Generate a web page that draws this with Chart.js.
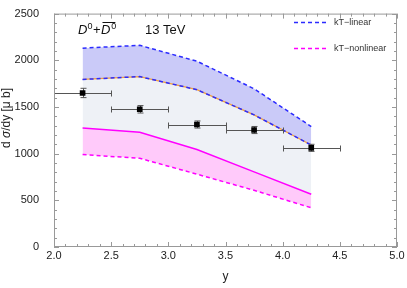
<!DOCTYPE html>
<html>
<head>
<meta charset="utf-8">
<script src="https://cdn.jsdelivr.net/npm/chart.js@4.4.0/dist/chart.umd.min.js"></script>
<style>
body{margin:0;background:#fff;}
</style>
</head>
<body>
<canvas id="myChart" width="407" height="288"></canvas>
<script>
// 라피디티 bin
var rapidity = [2.25, 2.75, 3.25, 3.75, 4.25];
var binLow = [2.0, 2.5, 3.0, 3.5, 4.0];
var binHigh = [2.5, 3.0, 3.5, 4.0, 4.5];
// 측정값 (LHCb)
var dataY = [1650, 1475, 1312, 1253, 1062];
var dataErr = [50, 40, 38, 38, 38];
// kT-linear 밴드
var linearUp = [2130, 2160, 1990, 1695, 1290];
var linearLow = [1795, 1825, 1685, 1415, 1092];
// kT-nonlinear 밴드
var nonlinUp = [1275, 1230, 1045, 805, 565];
var nonlinLow = [990, 950, 780, 607, 420];
// 눈금
var xTicks = [2.0, 2.5, 3.0, 3.5, 4.0, 4.5, 5.0];
var yTicks = [0, 500, 1000, 1500, 2000, 2500];
var legendNames = ['kT\u2212linear', 'kT\u2212nonlinear'];

var FONT = "'Liberation Sans', Arial, sans-serif";

function toXY(ys){
	return rapidity.map(function(x, i){ return {x: x, y: ys[i]}; });
}

//프레임 + 안쪽 눈금
var framePlugin = {
	id: 'frame',
	afterDraw: function(chart){
		var ctx = chart.ctx, a = chart.chartArea;
		var xs = chart.scales.x, ys = chart.scales.y;
		ctx.save();
		ctx.strokeStyle = '#999';
		ctx.lineWidth = 1;
		ctx.strokeRect(a.left + 0.5, a.top + 0.5, a.right - a.left - 1, a.bottom - a.top - 1);
		ctx.beginPath();
		var v, p, len;
		for (var i = 0; i <= 30; i++){
			v = 2 + i * 0.1;
			p = Math.round(xs.getPixelForValue(v)) + 0.5;
			len = (i % 5 == 0) ? 5 : 3;
			ctx.moveTo(p, a.bottom); ctx.lineTo(p, a.bottom - len);
			ctx.moveTo(p, a.top); ctx.lineTo(p, a.top + len);
		}
		for (var j = 0; j <= 25; j++){
			v = j * 100;
			p = Math.round(ys.getPixelForValue(v)) + 0.5;
			len = (j % 5 == 0) ? 5 : 3;
			ctx.moveTo(a.left, p); ctx.lineTo(a.left + len, p);
			ctx.moveTo(a.right, p); ctx.lineTo(a.right - len, p);
		}
		ctx.stroke();

		//y축 제목
		ctx.fillStyle = '#222';
		ctx.translate(7, 118);
		ctx.rotate(-Math.PI / 2);
		var parts = [['d ', 'normal'], ['\u03c3', 'italic'], ['/dy [', 'normal'], ['\u03bc', 'normal'], [' b]', 'normal']];
		var total = 0;
		parts.forEach(function(pt){ ctx.font = pt[1] + ' 12px ' + FONT; total += ctx.measureText(pt[0]).width; });
		var x = -total / 2;
		ctx.textBaseline = 'middle';
		parts.forEach(function(pt){
			ctx.font = pt[1] + ' 12px ' + FONT;
			ctx.fillText(pt[0], x, 0);
			x += ctx.measureText(pt[0]).width;
		});
		ctx.restore();

		//범례
		ctx.save();
		ctx.lineWidth = 1.5;
		ctx.setLineDash([4, 3]);
		var colors = ['#2b2bff', '#ff00ff'];
		var rowY = [22.5, 48.5];
		for (var k = 0; k < 2; k++){
			ctx.strokeStyle = colors[k];
			ctx.beginPath();
			ctx.moveTo(294, rowY[k]); ctx.lineTo(329, rowY[k]);
			ctx.stroke();
			ctx.fillStyle = '#333';
			ctx.font = '9px ' + FONT;
			ctx.textBaseline = 'middle';
			ctx.fillText(legendNames[k], 334, rowY[k]);
		}
		ctx.restore();

		//D0 + D0bar, 13 TeV
		ctx.save();
		ctx.fillStyle = '#111';
		ctx.textBaseline = 'alphabetic';
		var bx = 78, by = 34;
		ctx.font = 'italic 13px ' + FONT;
		ctx.fillText('D', bx, by);
		bx += ctx.measureText('D').width;
		ctx.font = '9px ' + FONT;
		ctx.fillText('0', bx, by - 5);
		bx += ctx.measureText('0').width + 0.5;
		ctx.font = '13px ' + FONT;
		ctx.fillText('+', bx, by);
		bx += ctx.measureText('+').width + 0.5;
		ctx.font = 'italic 13px ' + FONT;
		var dw = ctx.measureText('D').width;
		ctx.fillText('D', bx, by);
		ctx.strokeStyle = '#111';
		ctx.lineWidth = 1;
		ctx.beginPath();
		ctx.moveTo(bx + 1.5, by - 11.5); ctx.lineTo(bx + dw + 5, by - 11.5);
		ctx.stroke();
		bx += dw + 1;
		ctx.font = '9px ' + FONT;
		ctx.fillText('0', bx, by - 5);
		ctx.font = '13px ' + FONT;
		ctx.fillText('13 TeV', 145, by);
		ctx.restore();
	}
};

//에러바
var errorBarPlugin = {
	id: 'errbars',
	beforeDatasetDraw: function(chart, args){
		if (args.index != 5) return;
		var ctx = chart.ctx, xs = chart.scales.x, ys = chart.scales.y;
		ctx.save();
		ctx.strokeStyle = '#555';
		ctx.lineWidth = 1;
		ctx.beginPath();
		for (var i = 0; i < rapidity.length; i++){
			var cy = Math.round(ys.getPixelForValue(dataY[i])) + 0.5;
			var cx = Math.round(xs.getPixelForValue(rapidity[i])) + 0.5;
			var x0 = Math.round(xs.getPixelForValue(binLow[i])) + 0.5;
			var x1 = Math.round(xs.getPixelForValue(binHigh[i])) + 0.5;
			var y0 = ys.getPixelForValue(dataY[i] - dataErr[i]);
			var y1 = ys.getPixelForValue(dataY[i] + dataErr[i]);
			ctx.moveTo(x0, cy); ctx.lineTo(x1, cy);
			ctx.moveTo(x0, cy - 3); ctx.lineTo(x0, cy + 3);
			ctx.moveTo(x1, cy - 3); ctx.lineTo(x1, cy + 3);
			ctx.moveTo(cx, y0); ctx.lineTo(cx, y1);
			ctx.moveTo(cx - 3, y0); ctx.lineTo(cx + 3, y0);
			ctx.moveTo(cx - 3, y1); ctx.lineTo(cx + 3, y1);
		}
		ctx.stroke();
		ctx.restore();
	}
};

var ctx = document.getElementById('myChart');
var chart = new Chart(ctx, {
	type: 'line',
	data: {
		datasets: [{
			data: toXY(linearUp),
			borderColor: '#2b2bff', borderWidth: 1.5, borderDash: [4, 3],
			backgroundColor: 'rgb(202,202,248)', fill: 1, order: 1
		}, {
			data: toXY(linearLow),
			borderColor: '#2b2bff', borderWidth: 1.5, borderDash: [4, 3],
			backgroundColor: 'rgb(238,241,246)', fill: 2, order: 2
		}, {
			data: toXY(nonlinUp),
			borderColor: '#ff00ff', borderWidth: 1.5,
			backgroundColor: 'rgb(255,202,250)', fill: 3, order: 3
		}, {
			data: toXY(nonlinLow),
			borderColor: '#ff00ff', borderWidth: 1.5, borderDash: [4, 3],
			fill: false, order: 4
		}, {
			data: toXY(linearLow),
			borderColor: '#f0a040', borderWidth: 1.2,
			fill: false, order: 5
		}, {
			type: 'scatter',
			data: toXY(dataY),
			pointStyle: 'rect', pointRadius: 4, pointBorderWidth: 0,
			pointBackgroundColor: '#000', pointBorderColor: '#000',
			showLine: false, order: 0
		}]
	},
	options: {
		responsive: false,
		animation: false,
		layout: {padding: {left: 0, right: 10, top: 7, bottom: 0}},
		elements: {
			line: {tension: 0},
			point: {radius: 0, hoverRadius: 0}
		},
		plugins: {
			legend: {display: false},
			tooltip: {enabled: false},
			filler: {drawTime: 'beforeDatasetsDraw'}
		},
		scales: {
			x: {
				type: 'linear', min: 2, max: 5,
				grid: {display: false}, border: {display: false},
				afterBuildTicks: function(s){ s.ticks = xTicks.map(function(v){ return {value: v}; }); },
				afterFit: function(s){ s.height = 41; },
				ticks: {
					padding: -6, color: '#222', maxRotation: 0,
					font: {family: FONT, size: 11},
					callback: function(v){ return v.toFixed(1); }
				},
				title: {display: true, text: 'y', color: '#222', font: {family: FONT, size: 12}, padding: {top: 0, bottom: 4}}
			},
			y: {
				min: 0, max: 2500,
				grid: {display: false}, border: {display: false},
				afterBuildTicks: function(s){ s.ticks = yTicks.map(function(v){ return {value: v}; }); },
				afterFit: function(s){ s.width = 54; },
				ticks: {
					padding: 7, color: '#222',
					font: {family: FONT, size: 11},
					callback: function(v){ return String(v); }
				}
			}
		}
	},
	plugins: [errorBarPlugin, framePlugin]
});
</script>
</body>
</html>
